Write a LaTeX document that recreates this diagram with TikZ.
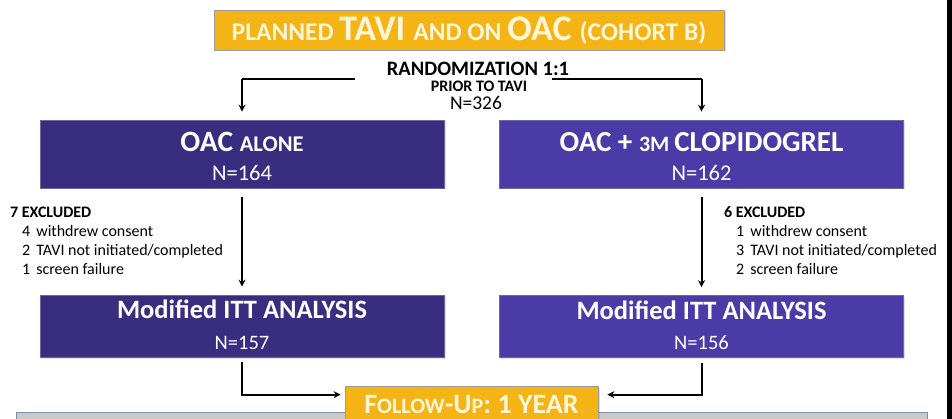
\documentclass[tikz,border=0pt]{standalone}
\usepackage{fontspec}
\setmainfont{Carlito}
\usetikzlibrary{arrows.meta,shadows,calc}
\definecolor{gold}{HTML}{F5B415}
\definecolor{goldedge}{HTML}{9C9C9C}
\definecolor{cream}{HTML}{FFF6DA}
\definecolor{indigoA}{HTML}{382D7F}
\definecolor{indigoB}{HTML}{4A3BA7}
\definecolor{boxedge}{HTML}{6A6AA0}
\definecolor{stripgrey}{HTML}{C9C9C9}
\definecolor{stripedge}{HTML}{7F8FA8}
\newcommand\fsz[2]{{\fontsize{#1}{#1}\selectfont #2}}
\begin{document}
\begin{tikzpicture}[x=1pt,y=-1pt,
  goldbox/.style={draw=goldedge,line width=0.7pt,fill=gold,inner sep=0pt,
    drop shadow={opacity=0.25,shadow xshift=1.5pt,shadow yshift=-1.5pt}},
  armbox/.style={draw=boxedge,line width=0.6pt,inner sep=0pt,minimum width=404pt,
    drop shadow={opacity=0.25,shadow xshift=1.5pt,shadow yshift=-1.5pt}},
  wtxt/.style={text=white,inner sep=0pt,anchor=base},
  ctxt/.style={text=cream,inner sep=0pt,anchor=base,font=\bfseries},
  btxt/.style={text=black,inner sep=0pt,anchor=base},
  ltxt/.style={text=black,inner sep=0pt,anchor=base west},
  arr/.style={draw=black,line width=2pt,-{Stealth[length=7pt,width=7pt]}},
  seg/.style={draw=black,line width=2pt}]
\useasboundingbox (0,0) rectangle (952,419);
\fill[white] (0,0) rectangle (952,419);

% title
\node[goldbox,minimum width=510pt,minimum height=40pt] (title) at (469,30) {};
\node[ctxt] (titlet) at (469,41) {\fsz{25.5}{PLANNED }\fsz{36}{TAVI }\fsz{25.5}{AND ON }\fsz{36}{OAC }\fsz{25.5}{(COHORT B)}};

% randomization
\node[btxt,font=\bfseries] (rand) at (478,75.5) {\fsz{20.5}{RANDOMIZATION 1:1}};
\node[btxt,font=\bfseries] (prior) at (479,92) {\fsz{16}{PRIOR TO TAVI}};
\node[btxt] (n326) at (476,110) {\fsz{19.5}{N=326}};
\coordinate (rl) at (355,79);
\coordinate (rr) at (552,79);

% arm boxes
\node[armbox,fill=indigoA,minimum height=68pt] (oac) at (242,154) {};
\node[wtxt,font=\bfseries] (oact) at (242,152) {\fsz{29.5}{OAC }\fsz{22.5}{ALONE}};
\node[wtxt] (oacn) at (242,181) {\fsz{22.5}{N=164}};

\node[armbox,fill=indigoB,minimum height=68pt] (clop) at (701.5,154) {};
\node[wtxt,font=\bfseries] (clopt) at (701.5,152) {\fsz{29}{OAC + }\fsz{22}{3M }\fsz{29}{CLOPIDOGREL}};
\node[wtxt] (clopn) at (701.5,181) {\fsz{22.5}{N=162}};

% ITT boxes
\node[armbox,fill=indigoA,minimum height=62pt] (ittA) at (242,326) {};
\node[wtxt,font=\bfseries] (ittAt) at (242,319) {\fsz{26.5}{Modified ITT ANALYSIS}};
\node[wtxt] (ittAn) at (242,349) {\fsz{20.5}{N=157}};

\node[armbox,fill=indigoB,minimum height=62pt] (ittB) at (701.5,326.5) {};
\node[wtxt,font=\bfseries] (ittBt) at (701.5,319.5) {\fsz{26.5}{Modified ITT ANALYSIS}};
\node[wtxt] (ittBn) at (701.5,349.5) {\fsz{20.5}{N=156}};

% exclusions
\node[ltxt,font=\bfseries] (exA) at (10,218) {\fsz{16}{7 EXCLUDED}};
\node[ltxt] (exA1) at (22,237) {\fsz{16}{4\hspace{6pt}withdrew consent}};
\node[ltxt] (exA2) at (22,256) {\fsz{16}{2\hspace{6pt}TAVI not initiated/completed}};
\node[ltxt] (exA3) at (22,275) {\fsz{16}{1\hspace{6pt}screen failure}};

\node[ltxt,font=\bfseries] (exB) at (724,218) {\fsz{16}{6 EXCLUDED}};
\node[ltxt] (exB1) at (736,237) {\fsz{16}{1\hspace{6pt}withdrew consent}};
\node[ltxt] (exB2) at (736,256) {\fsz{16}{3\hspace{6pt}TAVI not initiated/completed}};
\node[ltxt] (exB3) at (736,275) {\fsz{16}{2\hspace{6pt}screen failure}};

% bottom strip and follow-up
\fill[stripgrey,draw=stripedge,line width=0.8pt] (16,412.5) rectangle (927,440);
\node[goldbox,minimum width=253pt,minimum height=40pt] (fu) at (471.5,406) {};
\node[ctxt] (fut) at (471.5,413) {\fsz{28}{F}\fsz{22}{OLLOW}\fsz{28}{-U}\fsz{22}{P}\fsz{28}{: 1 YEAR}};

% connectors
\draw[seg] (rl) -- (rl -| oac.north);
\draw[arr] (rl -| oac.north) -- ([yshift=8pt]oac.north);
\draw[seg] (rr) -- (rr -| clop.north);
\draw[arr] (rr -| clop.north) -- ([yshift=8pt]clop.north);
\draw[arr] ([yshift=-9pt]oac.south) -- ([yshift=8pt]ittA.north);
\draw[arr] ([yshift=-9pt]clop.south) -- ([yshift=8pt]ittB.north);
\draw[arr] ([yshift=-5pt]ittA.south) |- ($(fu.north west)+(-4,9)$);
\draw[arr] ([yshift=-5pt]ittB.south) |- ($(fu.north east)+(9,9)$);

% right edge bar
\fill[black] (947,0) rectangle (952,419);
\end{tikzpicture}
\end{document}
